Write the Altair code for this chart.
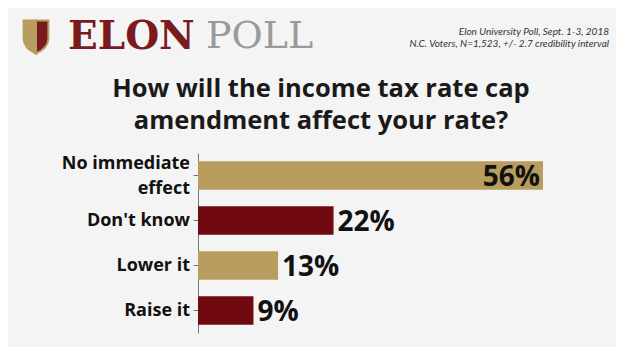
import altair as alt
import pandas as pd

categories = ["No immediate effect", "Don't know", "Lower it", "Raise it"]
values = [56, 22, 13, 9]
bar_colors = ["#B89D5E", "#710910", "#B89D5E", "#710910"]
title_lines = ["How will the income tax rate cap", "amendment affect your rate?"]
source_lines = ["Elon University Poll, Sept. 1-3, 2018",
                "N.C. Voters, N=1,523, +/- 2.7 credibility interval"]

df = pd.DataFrame({"answer": categories, "pct": values})
df["label"] = df["pct"].astype(str) + "%"
one = pd.DataFrame({"k": [0]})

y = alt.Y(
    "answer:N",
    sort=categories,
    scale=alt.Scale(paddingInner=0.37, paddingOuter=0.185),
    axis=alt.Axis(
        title=None, labels=False, tickSize=5, tickColor="#777777",
        domainColor="#777777",
    ),
)
x = alt.X("pct:Q", scale=alt.Scale(domain=[0, 56], nice=False, zero=True), axis=None)

bars = alt.Chart(df).mark_bar().encode(
    x=x, y=y,
    color=alt.Color("answer:N", scale=alt.Scale(domain=categories, range=bar_colors), legend=None),
)
val_style = dict(baseline="middle", dy=2, font="Open Sans", fontSize=28,
                 fontWeight="bold", color="#111111")
inside = alt.Chart(df).transform_filter("datum.pct >= 50").mark_text(
    align="right", dx=-3, **val_style
).encode(x=x, y=y, text="label:N")
outside = alt.Chart(df).transform_filter("datum.pct < 50").mark_text(
    align="left", dx=4, **val_style
).encode(x=x, y=y, text="label:N")

cat_style = dict(align="right", baseline="middle", font="Open Sans", fontSize=18,
                 fontWeight="bold", color="#111111", lineHeight=25)
cat_single = alt.Chart(df).transform_filter("indexof(datum.answer, ' effect') < 0").mark_text(
    dy=0, **cat_style
).encode(x=alt.value(-8), y=y, text="answer:N")
cat_multi = alt.Chart(df).transform_filter("indexof(datum.answer, ' effect') >= 0").transform_calculate(
    disp="replace(datum.answer, ' effect', '|effect')"
).mark_text(dy=-12, lineBreak="|", **cat_style).encode(x=alt.value(-8), y=y, text="disp:N")

shield_left = alt.Chart(one).mark_point(
    shape="M-0.75,-1 L0,-1 L0,1 Q-0.75,0.65 -0.75,0.1 Z", filled=True,
    fill="#B89D5E", stroke="#B89D5E", opacity=1, size=1089,
).encode(x=alt.value(-162), y=alt.value(-116))
shield_right = alt.Chart(one).mark_point(
    shape="M0,-1 L0.75,-1 L0.75,0.1 Q0.75,0.65 0,1 Z", filled=True,
    fill="#7A1A1E", stroke="#B89D5E", opacity=1, size=1089,
).encode(x=alt.value(-162), y=alt.value(-116))
elon = alt.Chart(one).mark_text(
    align="left", baseline="middle", font="DejaVu Serif", fontSize=39,
    fontWeight="bold", color="#7A1A1E",
).encode(x=alt.value(-130), y=alt.value(-116), text=alt.value("ELON"))
poll = alt.Chart(one).mark_text(
    align="left", baseline="middle", font="DejaVu Serif", fontSize=38,
    color="#9A9A9A",
).encode(x=alt.value(8), y=alt.value(-116), text=alt.value("POLL"))
source = alt.Chart(one).mark_text(
    align="right", baseline="middle", font="Lato", fontSize=10, fontStyle="italic",
    color="#333333", lineHeight=11.5,
).encode(x=alt.value(411), y=alt.value(-121), text=alt.value(source_lines))
title = alt.Chart(one).mark_text(
    align="center", baseline="middle", font="Open Sans", fontSize=25.5, fontWeight="bold",
    color="#1A1A1A", lineHeight=32,
).encode(x=alt.value(123), y=alt.value(-64), text=alt.value(title_lines))

chart = alt.layer(
    bars, inside, outside, cat_single, cat_multi,
    shield_left, shield_right, elon, poll, source, title,
).properties(
    width=345,
    height=180,
    padding={"left": 190, "top": 145, "right": 73, "bottom": 14},
    autosize=alt.AutoSizeParams(type="none"),
).configure(background="#F4F4F4", view=alt.ViewConfig(stroke=None))

chart.save("out.html", embed_options={"renderer": "svg", "actions": False})
